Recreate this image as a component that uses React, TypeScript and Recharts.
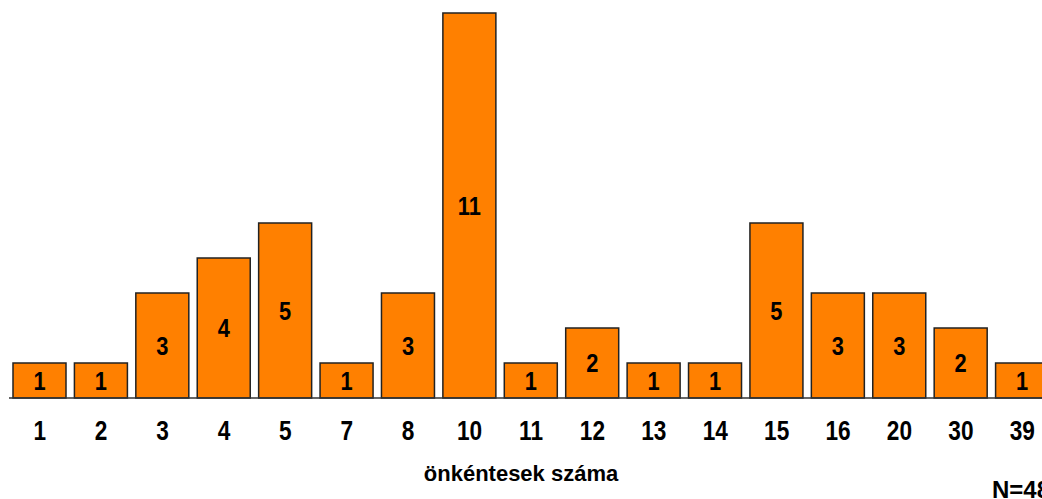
import { Bar, BarChart, LabelList, XAxis, YAxis } from "recharts"

const categories = ["1", "2", "3", "4", "5", "7", "8", "10", "11", "12", "13", "14", "15", "16", "20", "30", "39"]
const counts = [1, 1, 3, 4, 5, 1, 3, 11, 1, 2, 1, 1, 5, 3, 3, 2, 1]
const axisTitle = "önkéntesek száma"
const sampleNote = "N=48"

const data = categories.map((name, i) => ({ name, value: counts[i] }))

const font = "'Liberation Sans', Arial, sans-serif"
const squeeze = 0.84

// Arial Narrow look: plain bold text pinched horizontally
function NarrowTick({ x, y, payload }: any) {
  return (
    <text
      transform={`translate(${x},${y + 34}) scale(${squeeze},1)`}
      textAnchor="middle"
      fill="#000"
      fontSize={27}
      fontWeight={700}
      fontFamily={font}
    >
      {payload.value}
    </text>
  )
}

function NarrowLabel({ x, y, width, height, value }: any) {
  const cx = x + width / 2
  const cy = y + height / 2 + 9.3
  return (
    <text
      transform={`translate(${cx},${cy}) scale(${squeeze},1)`}
      textAnchor="middle"
      fill="#000"
      fontSize={26}
      fontWeight={700}
      fontFamily={font}
    >
      {value}
    </text>
  )
}

function App() {
  return (
    <div
      style={{
        position: "absolute",
        left: 0,
        top: 0,
        width: 1042,
        height: 499,
        overflow: "hidden",
        background: "#fff",
        fontFamily: font,
      }}
    >
      <BarChart
        width={1060}
        height={499}
        data={data}
        margin={{ top: 13, right: 7, bottom: 41, left: 9 }}
        barSize={53}
      >
        <XAxis
          dataKey="name"
          height={60}
          axisLine={{ stroke: "#333", strokeWidth: 1.5 }}
          tickLine={false}
          interval={0}
          tick={<NarrowTick />}
        />
        <YAxis hide domain={[0, 11]} />
        <Bar dataKey="value" fill="#FF8000" stroke="#222" strokeWidth={1.5} isAnimationActive={false}>
          <LabelList dataKey="value" content={<NarrowLabel />} />
        </Bar>
      </BarChart>
      <svg width={1042} height={499} style={{ position: "absolute", left: 0, top: 0, pointerEvents: "none" }}>
        <text x={521} y={481} textAnchor="middle" fontSize={22} fontWeight={700} fontFamily={font} fill="#000">
          {axisTitle}
        </text>
        <text x={992} y={498} fontSize={24} fontWeight={700} fontFamily={font} fill="#000">
          {sampleNote}
        </text>
      </svg>
    </div>
  )
}

export default App
